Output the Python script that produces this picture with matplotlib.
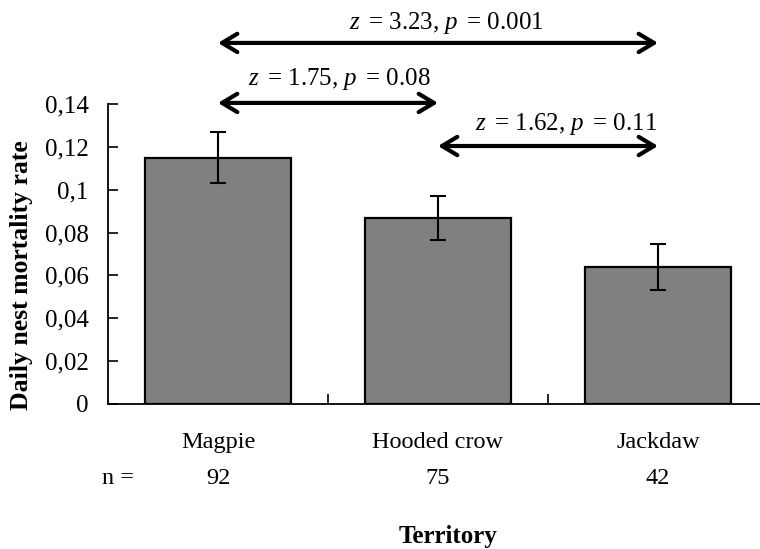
import matplotlib
matplotlib.use("Agg")
import matplotlib.pyplot as plt
import matplotlib.transforms as mtransforms
import numpy as np

# Data
territories = ['Magpie', 'Hooded crow', 'Jackdaw']
n_nests = [92, 75, 42]
mortality = [0.115, 0.087, 0.064]
mortality_se = [0.012, 0.0103, 0.0107]

# pairwise comparisons: (from index, to index, label)
comparisons = [
    (0, 2, r'$z\,$ = 3.23, $p\,$ = 0.001'),
    (0, 1, r'$z\,$ = 1.75, $p\,$ = 0.08'),
    (1, 2, r'$z\,$ = 1.62, $p\,$ = 0.11'),
]
yticks = [0, 0.02, 0.04, 0.06, 0.08, 0.1, 0.12, 0.14]
ytick_labels = ['0', '0,02', '0,04', '0,06', '0,08', '0,1', '0,12', '0,14']

plt.rcParams['font.family'] = ['Liberation Serif', 'DejaVu Serif']
plt.rcParams['mathtext.fontset'] = 'custom'
plt.rcParams['mathtext.rm'] = 'Liberation Serif'
plt.rcParams['mathtext.it'] = 'Liberation Serif:italic'

fig = plt.figure(figsize=(7.6, 5.49), dpi=100)
ax = fig.add_axes([108 / 760, 145 / 549, 660 / 760, 300 / 549])

x = np.arange(len(territories))

# Bars with error bars
ax.bar(x, mortality, width=0.664, color='#808080', edgecolor='black',
       linewidth=1.6, zorder=2)
ax.errorbar(x, mortality, yerr=mortality_se, fmt='none', ecolor='black',
            elinewidth=1.5, capsize=5.5, capthick=1.5, zorder=3)

ax.set_xlim(-0.5, 2.5)
ax.set_ylim(0, 0.14)

# Axes styling
for side in ['top', 'right']:
    ax.spines[side].set_visible(False)
ax.spines['left'].set_linewidth(1.3)
ax.spines['bottom'].set_linewidth(1.3)

ax.set_yticks(yticks)
ax.set_yticklabels(ytick_labels, fontsize=18)
ax.tick_params(axis='y', direction='in', length=7, width=1.2, pad=14)

# Major x ticks sit between categories, labels at category centres
ax.set_xticks([0.5, 1.5])
ax.set_xticklabels([])
ax.tick_params(axis='x', which='major', direction='in', length=7, width=1.2)
ax.set_xticks(x, minor=True)
ax.set_xticklabels(territories, minor=True, fontsize=17.5)
ax.tick_params(axis='x', which='minor', length=0, pad=20)

# Sample sizes under the categories
trans = mtransforms.blended_transform_factory(ax.transData, ax.transAxes)
for xi, n in zip(x, n_nests):
    ax.text(xi, -0.25, str(n), transform=trans, ha='center', va='center',
            fontsize=17.5)
ax.text(-0.455, -0.25, 'n =', transform=trans, ha='center', va='center',
        fontsize=17.5, clip_on=False)

# Axis titles
ax.set_ylabel('Daily nest mortality rate', fontsize=18.5, fontweight='bold')
ax.yaxis.set_label_coords(-0.114, 0.43)
ax.text(448 / 760, 13 / 549, 'Territory', transform=fig.transFigure,
        ha='center', va='center', fontsize=18, fontweight='bold')

# Comparison arrows and their statistics
arrow_y = [0.1685, 0.1405, 0.1204]
label_pos = [(1.04, 0.178), (0.55, 0.1515), (1.58, 0.1305)]
for (i, j, lab), ay, (lx, ly) in zip(comparisons, arrow_y, label_pos):
    ax.annotate('', xy=(x[j], ay), xytext=(x[i], ay),
                arrowprops=dict(arrowstyle='<->,head_length=0.5,head_width=0.3',
                                lw=3, color='black', shrinkA=0, shrinkB=0,
                                mutation_scale=22),
                annotation_clip=False)
    ax.text(lx, ly, lab, ha='center', va='center', fontsize=18, clip_on=False)

fig.savefig('out.png', dpi=100)
